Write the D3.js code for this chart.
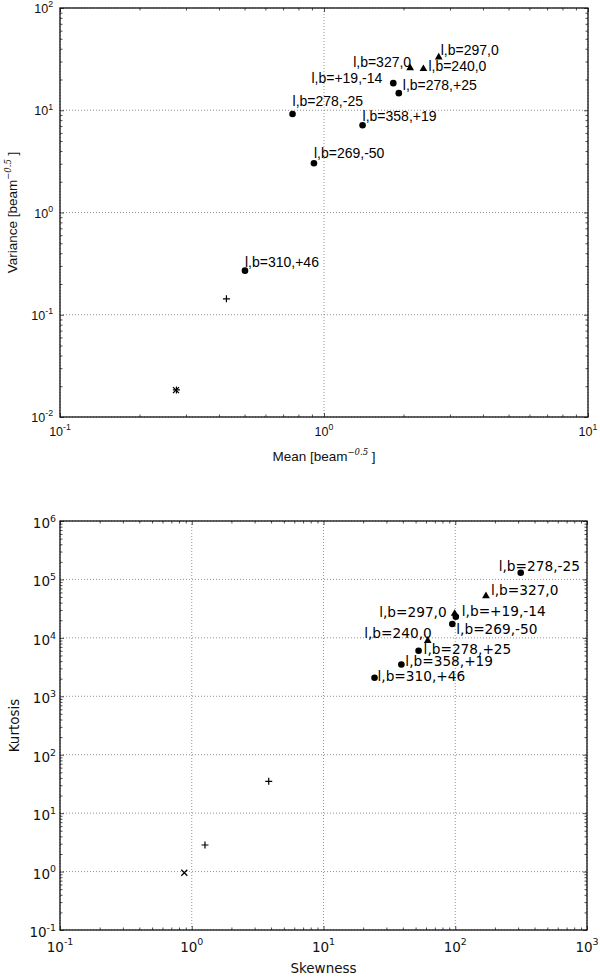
<!DOCTYPE html>
<html>
<head>
<meta charset="utf-8">
<script src="https://cdn.jsdelivr.net/npm/d3@7"></script>
<style>
  body { margin: 0; background: #fff; }
  svg { display: block; }
</style>
</head>
<body>
<svg id="chart" width="600" height="980"></svg>
<script>
// ---- top panel : mean vs variance ----
const topNames   = ["l,b=278,-25", "l,b=269,-50", "l,b=358,+19", "l,b=+19,-14", "l,b=278,+25",
                    "l,b=327,0", "l,b=240,0", "l,b=297,0", "l,b=310,+46", "", "", ""];
const topMean    = [0.76, 0.916, 1.40, 1.83, 1.92, 2.12, 2.38, 2.72, 0.502, 0.427, 0.276, 0.275];
const topVar     = [9.2, 3.03, 7.13, 18.4, 14.7, 25.9, 25.4, 33.0, 0.270, 0.143, 0.0184, 0.0183];
const topMarker  = ["o", "o", "o", "o", "o", "^", "^", "^", "o", "+", "+", "x"];

// ---- bottom panel : skewness vs kurtosis ----
const botNames   = ["l,b=278,-25", "l,b=269,-50", "l,b=358,+19", "l,b=+19,-14", "l,b=278,+25",
                    "l,b=327,0", "l,b=240,0", "l,b=297,0", "l,b=310,+46", "", "", ""];
const botSkew    = [314, 95, 39, 101, 52.7, 171, 61.8, 99, 24.4, 3.84, 1.26, 0.878];
const botKurt    = [1.30e5, 1.73e4, 3.5e3, 2.3e4, 6.0e3, 5.2e4, 8.9e3, 2.6e4, 2.08e3, 35, 2.85, 0.957];
const botMarker  = ["o", "o", "o", "o", "o", "^", "^", "^", "o", "+", "+", "x"];

// label placement (pixel nudges, anchor) - layout only
const topLabelPos = [[0, -8, "start"], [0, -5, "start"], [0, -4, "start"], [-11, 0, "end"], [4, -3, "start"],
                     [1, -1, "end"], [5, 2, "start"], [2, -2, "start"], [0, -3.5, "start"]];
const botLabelPos = [[-22, -2, "start"], [4, 10, "start"], [4, 2, "start"], [6, -1, "start"], [5, 3.5, "start"],
                     [5, -1, "start"], [4, -3, "end"], [-8, 3, "end"], [3, 3, "start"]];

const svg = d3.select("#chart");

function logTicks(lo, hi) {
  const major = [], minor = [];
  for (let k = Math.round(Math.log10(lo)); k <= Math.round(Math.log10(hi)); k++) {
    major.push(Math.pow(10, k));
    if (k < Math.round(Math.log10(hi)))
      for (let m = 2; m <= 9; m++) minor.push(m * Math.pow(10, k));
  }
  return {major, minor};
}

function panel(opt) {
  const x = d3.scaleLog().domain(opt.xDom).range([opt.left, opt.right]);
  const y = d3.scaleLog().domain(opt.yDom).range([opt.bottom, opt.top]);
  const g = svg.append("g").style("font-family", opt.font);
  const xt = logTicks(opt.xDom[0], opt.xDom[1]);
  const yt = logTicks(opt.yDom[0], opt.yDom[1]);

  // grid
  g.append("g").selectAll("line.gx").data(xt.major).enter().append("line")
    .attr("x1", d => x(d)).attr("x2", d => x(d)).attr("y1", opt.top).attr("y2", opt.bottom)
    .attr("stroke", "#777").attr("stroke-width", 0.8).attr("stroke-dasharray", "1,2");
  g.append("g").selectAll("line.gy").data(yt.major).enter().append("line")
    .attr("y1", d => y(d)).attr("y2", d => y(d)).attr("x1", opt.left).attr("x2", opt.right)
    .attr("stroke", "#777").attr("stroke-width", 0.8).attr("stroke-dasharray", "1,2");

  // ticks on all four sides, pointing inward
  const axes = [
    [d3.axisBottom(x), `translate(0,${opt.bottom})`, xt],
    [d3.axisTop(x), `translate(0,${opt.top})`, xt],
    [d3.axisLeft(y), `translate(${opt.left},0)`, yt],
    [d3.axisRight(y), `translate(${opt.right},0)`, yt]
  ];
  axes.forEach(([ax, tr, t]) => {
    [[t.major, 4], [t.minor, 2.5]].forEach(([vals, len]) => {
      const a = g.append("g").attr("transform", tr)
        .call(ax.tickValues(vals).tickSize(-len).tickFormat(""));
      a.select(".domain").remove();
      a.selectAll("line").attr("stroke", "#222").attr("stroke-width", 0.8);
    });
  });

  // frame
  g.append("rect").attr("x", opt.left).attr("y", opt.top)
    .attr("width", opt.right - opt.left).attr("height", opt.bottom - opt.top)
    .attr("fill", "none").attr("stroke", "#111").attr("stroke-width", 1.3);

  // tick labels with superscript exponents
  function pow(sel, v) {
    sel.append("tspan").text("10");
    sel.append("tspan").attr("dy", -opt.tickFs * 0.45).attr("font-size", opt.tickFs * 0.7)
      .text(String(Math.round(Math.log10(v))));
  }
  xt.major.forEach(v => {
    g.append("text").attr("x", x(v)).attr("y", opt.bottom + opt.xTickDy)
      .attr("text-anchor", "middle").attr("font-size", opt.tickFs).attr("fill", "#111")
      .call(pow, v);
  });
  yt.major.forEach(v => {
    g.append("text").attr("x", opt.left - opt.yTickPad).attr("y", y(v) + opt.yTickDy)
      .attr("text-anchor", "end").attr("font-size", opt.tickFs).attr("fill", "#111")
      .call(pow, v);
  });

  // axis titles
  const xl = g.append("text").attr("x", (opt.left + opt.right) / 2).attr("y", opt.xLabelY)
    .attr("text-anchor", "middle").attr("font-size", opt.labelFs).attr("fill", "#111");
  opt.xLabel(xl);
  const yl = g.append("text")
    .attr("transform", `translate(${opt.yLabelX},${(opt.top + opt.bottom) / 2}) rotate(-90)`)
    .attr("text-anchor", "middle").attr("font-size", opt.labelFs).attr("fill", "#111");
  opt.yLabel(yl);

  // markers
  const pts = opt.xs.map((v, i) => ({x: v, y: opt.ys[i], m: opt.marker[i], name: opt.names[i], i}));
  const mk = g.append("g");
  pts.forEach(p => {
    const px = x(p.x), py = y(p.y);
    if (p.m === "o") {
      mk.append("circle").attr("cx", px).attr("cy", py).attr("r", 3.3).attr("fill", "#000");
    } else if (p.m === "^") {
      mk.append("path").attr("d", d3.symbol(d3.symbolTriangle, 26)())
        .attr("transform", `translate(${px},${py})`).attr("fill", "#000");
    } else if (p.m === "+") {
      mk.append("path").attr("d", `M${px - 3.5},${py}H${px + 3.5}M${px},${py - 3.5}V${py + 3.5}`)
        .attr("stroke", "#000").attr("stroke-width", 1.2);
    } else {
      mk.append("path").attr("d", `M${px - 3},${py - 3}L${px + 3},${py + 3}M${px - 3},${py + 3}L${px + 3},${py - 3}`)
        .attr("stroke", "#000").attr("stroke-width", 1.3);
    }
    if (p.name) {
      const lp = opt.labelPos[p.i];
      g.append("text").attr("x", px + lp[0]).attr("y", py + lp[1]).attr("text-anchor", lp[2])
        .attr("font-size", opt.annFs).attr("fill", "#000").text(p.name);
    }
  });
}

function beamLabel(name) {
  return sel => {
    sel.append("tspan").text(name + " [beam");
    sel.append("tspan").attr("dy", -6).attr("font-size", 8.5)
      .attr("font-family", "DejaVu Serif").attr("font-style", "italic").text("\u22120.5");
    sel.append("tspan").attr("dy", 6).text(" ]");
  };
}

panel({
  left: 60, right: 588, top: 8, bottom: 417,
  xDom: [0.1, 10], yDom: [0.01, 100],
  font: "'Liberation Sans', Arial, sans-serif",
  tickFs: 12.5, labelFs: 13.5, annFs: 14,
  xTickDy: 19, yTickPad: 7, yTickDy: 5,
  xLabelY: 461, yLabelX: 17,
  xLabel: beamLabel("Mean"), yLabel: beamLabel("Variance"),
  xs: topMean, ys: topVar, marker: topMarker, names: topNames, labelPos: topLabelPos
});

panel({
  left: 60, right: 587, top: 521, bottom: 930,
  xDom: [0.1, 1000], yDom: [0.1, 1e6],
  font: "'DejaVu Sans', sans-serif",
  tickFs: 13.5, labelFs: 13.5, annFs: 13.7,
  xTickDy: 21.5, yTickPad: 4, yTickDy: 7,
  xLabelY: 973, yLabelX: 19,
  xLabel: s => s.text("Skewness"), yLabel: s => s.text("Kurtosis"),
  xs: botSkew, ys: botKurt, marker: botMarker, names: botNames, labelPos: botLabelPos
});
</script>
</body>
</html>
